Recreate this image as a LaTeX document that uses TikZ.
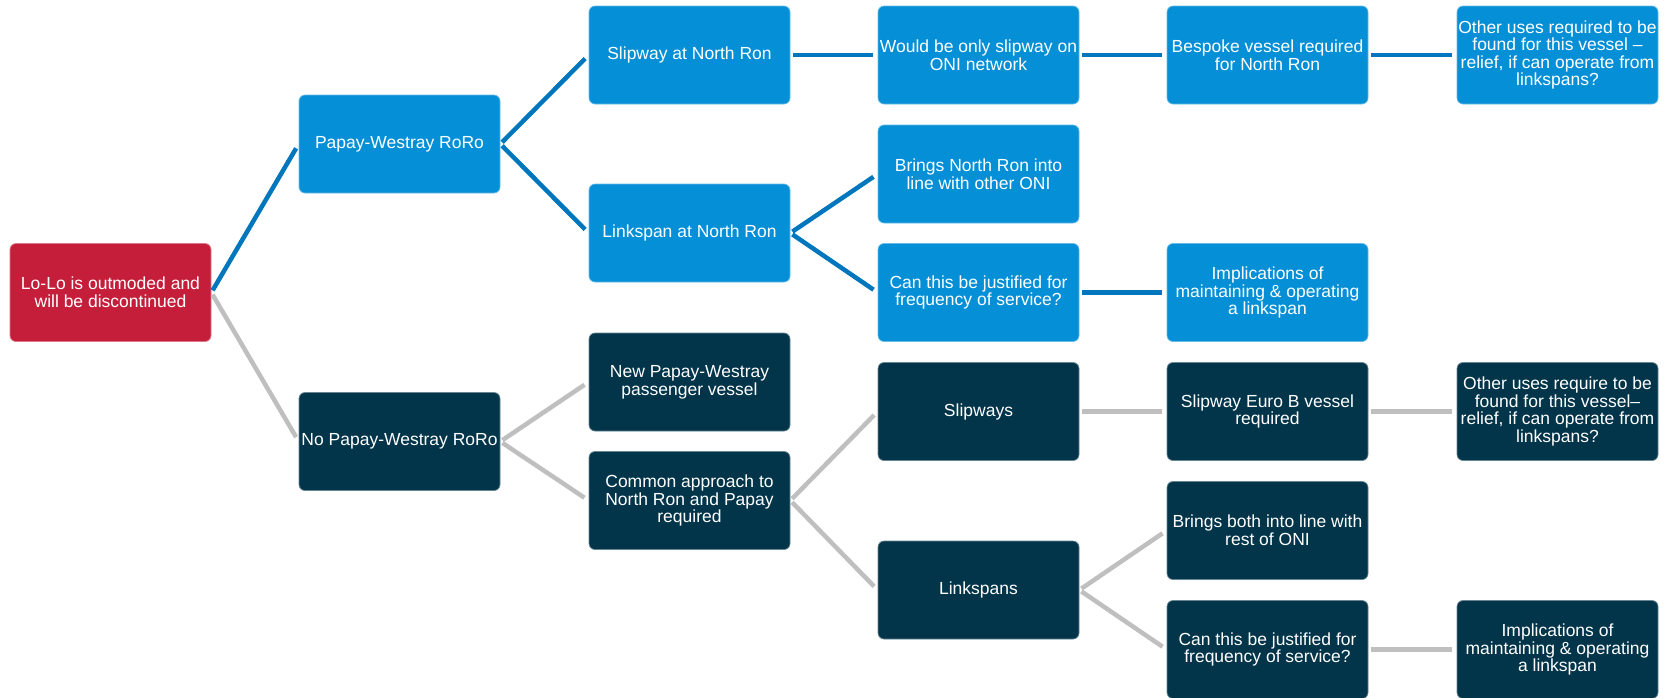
\documentclass[tikz,border=0pt]{standalone}
\usepackage{fontspec}
\setmainfont{Liberation Sans}
\definecolor{boxblue}{RGB}{4,143,214}
\definecolor{boxdark}{RGB}{2,52,74}
\definecolor{boxred}{RGB}{197,30,58}
\definecolor{lineblue}{RGB}{0,118,188}
\definecolor{linegray}{RGB}{191,191,191}
\tikzset{
  card/.style={rectangle, rounded corners=6pt, minimum width=201pt, minimum height=98pt,
    inner sep=1pt, align=center, text=white, line width=0.7pt,
    font=\fontsize{17.5}{17.6}\selectfont},
  bluecard/.style={card, fill=boxblue, draw=boxblue!60!white},
  darkcard/.style={card, fill=boxdark, draw=boxdark!60!white},
  redcard/.style={card, fill=boxred, draw=boxred!60!white},
  link/.style={line width=4.5pt, shorten <=2.5pt, shorten >=5pt},
  bluelink/.style={link, draw=lineblue},
  graylink/.style={link, draw=linegray},
}
\begin{document}
\begin{tikzpicture}[x=1pt,y=-1pt]
\useasboundingbox (0,0) rectangle (1674,697);
% column 1
\node[redcard] (lolo) at (110.5,292.5) {Lo-Lo is outmoded and\\will be discontinued};
% column 2
\node[bluecard] (pw) at (399.5,144) {Papay-Westray RoRo};
\node[darkcard] (nopw) at (399.5,441.5) {No Papay-Westray RoRo};
% column 3
\node[bluecard] (slipnr) at (689.5,55) {Slipway at North Ron};
\node[bluecard] (linknr) at (689.5,233) {Linkspan at North Ron};
\node[darkcard] (newpw) at (689.5,382) {New Papay-Westray\\passenger vessel};
\node[darkcard] (common) at (689.5,500.5) {Common approach to\\North Ron and Papay\\required};
% column 4
\node[bluecard] (would) at (978.5,55) {Would be only slipway on\\ONI network};
\node[bluecard] (bringsnr) at (978.5,174) {Brings North Ron into\\line with other ONI};
\node[bluecard] (canb) at (978.5,292.5) {Can this be justified for\\frequency of service?};
\node[darkcard] (slipways) at (978.5,411.5) {Slipways};
\node[darkcard] (linkspans) at (978.5,590) {Linkspans};
% column 5
\node[bluecard] (bespoke) at (1267.5,55) {Bespoke vessel required\\for North Ron};
\node[bluecard] (implb) at (1267.5,292.5) {Implications of\\maintaining \& operating\\a linkspan};
\node[darkcard] (eurob) at (1267.5,411.5) {Slipway Euro B vessel\\required};
\node[darkcard] (bringsboth) at (1267.5,530.5) {Brings both into line with\\rest of ONI};
\node[darkcard] (cand) at (1267.5,649.5) {Can this be justified for\\frequency of service?};
% column 6
\node[bluecard] (otherb) at (1557.5,55) {Other uses required to be\\found for this vessel –\\relief, if can operate from\\linkspans?};
\node[darkcard] (otherd) at (1557.5,411.5) {Other uses require to be\\found for this vessel–\\relief, if can operate from\\linkspans?};
\node[darkcard] (impld) at (1557.5,649.5) {Implications of\\maintaining \& operating\\a linkspan};
% connectors
\draw[bluelink] (lolo.east) -- (pw.west);
\draw[graylink] (lolo.east) -- (nopw.west);
\draw[bluelink] (pw.east) -- (slipnr.west);
\draw[bluelink] (pw.east) -- (linknr.west);
\draw[bluelink] (slipnr.east) -- (would.west);
\draw[bluelink] (would.east) -- (bespoke.west);
\draw[bluelink] (bespoke.east) -- (otherb.west);
\draw[bluelink] (linknr.east) -- (bringsnr.west);
\draw[bluelink] (linknr.east) -- (canb.west);
\draw[bluelink] (canb.east) -- (implb.west);
\draw[graylink] (nopw.east) -- (newpw.west);
\draw[graylink] (nopw.east) -- (common.west);
\draw[graylink] (common.east) -- (slipways.west);
\draw[graylink] (common.east) -- (linkspans.west);
\draw[graylink] (slipways.east) -- (eurob.west);
\draw[graylink] (eurob.east) -- (otherd.west);
\draw[graylink] (linkspans.east) -- (bringsboth.west);
\draw[graylink] (linkspans.east) -- (cand.west);
\draw[graylink] (cand.east) -- (impld.west);
\end{tikzpicture}
\end{document}
